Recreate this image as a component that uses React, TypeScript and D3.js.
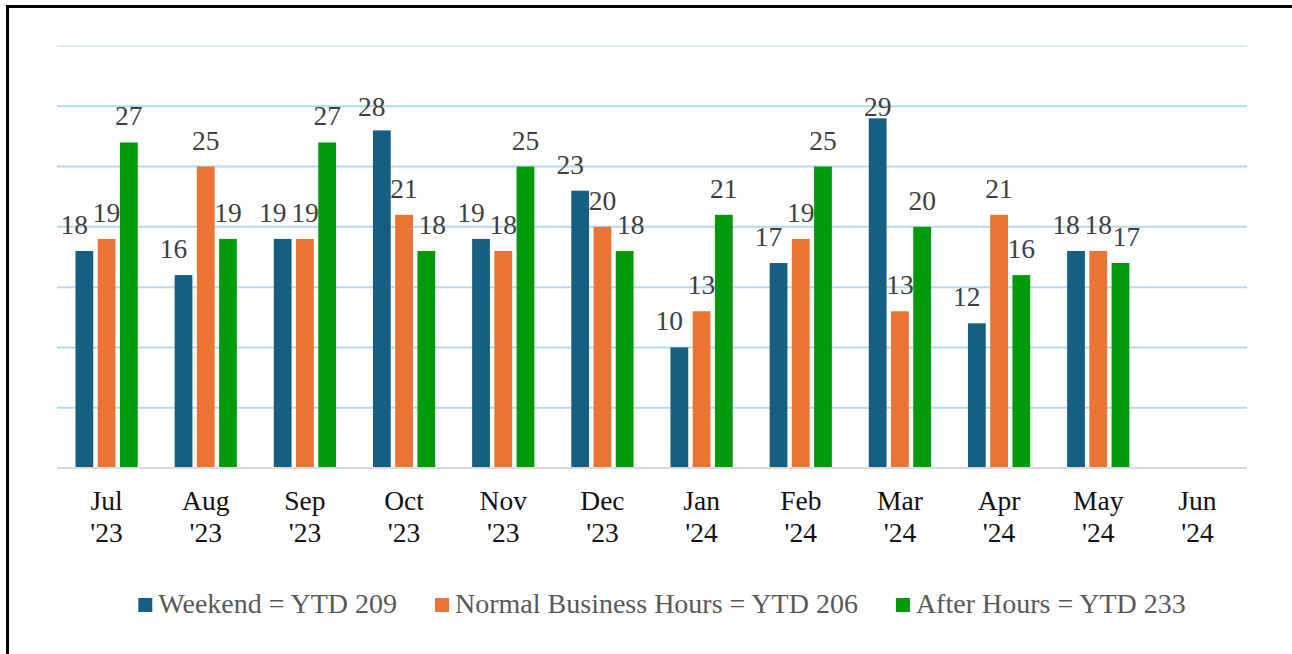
import React, { useRef, useEffect } from "react";
import * as d3 from "d3";

const months = ["Jul", "Aug", "Sep", "Oct", "Nov", "Dec", "Jan", "Feb", "Mar", "Apr", "May", "Jun"];
const years = ["'23", "'23", "'23", "'23", "'23", "'23", "'24", "'24", "'24", "'24", "'24", "'24"];

const weekend = [18, 16, 19, 28, 19, 23, 10, 17, 29, 12, 18];
const normalHours = [19, 25, 19, 21, 18, 20, 13, 19, 13, 21, 18];
const afterHours = [27, 19, 27, 18, 25, 18, 21, 25, 20, 16, 17];

const seriesNames = ["Weekend = YTD 209", "Normal Business Hours = YTD 206", "After Hours = YTD 233"];
const seriesColors = ["#175f80", "#eb7333", "#009a0a"];
const yTicks = [0, 5, 10, 15, 20, 25, 30, 35];

const W = 1292;
const H = 654;
const margin = { top: 46, right: 45, bottom: 186, left: 57 };
const FONT = "Liberation Serif, DejaVu Serif, serif";

const App: React.FC = () => {
  const svgRef = useRef<SVGSVGElement>(null);

  useEffect(() => {
    if (!svgRef.current) return;
    const svg = d3.select(svgRef.current);
    svg.selectAll("*").remove();

    const x0 = d3
      .scaleBand()
      .domain(months)
      .range([margin.left, W - margin.right])
      .paddingInner(0)
      .paddingOuter(0);

    const x1 = d3
      .scaleBand()
      .domain(["0", "1", "2"])
      .range([0, x0.bandwidth()])
      .paddingInner(0.2)
      .paddingOuter(0.83);

    const y = d3.scaleLinear().domain([0, 35]).range([H - margin.bottom, margin.top]);

    svg.append("rect").attr("width", W).attr("height", H).attr("fill", "#fff");

    // frame (top + left only)
    svg
      .append("path")
      .attr("d", `M7.5,${H} V6.5 H${W}`)
      .attr("fill", "none")
      .attr("stroke", "#000")
      .attr("stroke-width", 3);

    // gridlines
    svg
      .append("g")
      .selectAll("line")
      .data(yTicks.filter((t) => t > 0))
      .join("line")
      .attr("x1", margin.left)
      .attr("x2", W - margin.right)
      .attr("y1", (d) => y(d))
      .attr("y2", (d) => y(d))
      .attr("stroke", (d) => (d === 35 ? "#dceef9" : "#b3dbf0"))
      .attr("stroke-width", 2);

    const series = [weekend, normalHours, afterHours];

    const rows = months.map((m, i) => ({ m, i }));
    const groups = svg
      .append("g")
      .selectAll("g")
      .data(rows.filter((r) => r.i < weekend.length))
      .join("g")
      .attr("transform", (d) => `translate(${x0(d.m)},0)`);

    groups
      .selectAll("rect")
      .data((d) => series.map((s, k) => ({ k, v: s[d.i] })))
      .join("rect")
      .attr("x", (d) => x1(String(d.k)) as number)
      .attr("y", (d) => y(d.v))
      .attr("width", x1.bandwidth())
      .attr("height", (d) => y(0) - y(d.v))
      .attr("fill", (d) => seriesColors[d.k]);

    // data labels, nudged sideways where they would collide with the orange one
    groups
      .selectAll("text")
      .data((d) =>
        series.map((s, k) => {
          const v = s[d.i];
          const o = normalHours[d.i];
          let dx = 0;
          if (k === 0 && Math.abs(v - o) <= 10) dx = -10;
          if (k === 2 && Math.abs(v - o) <= 3) dx = 6;
          return { k, v, dx };
        })
      )
      .join("text")
      .attr("x", (d) => (x1(String(d.k)) as number) + x1.bandwidth() / 2 + d.dx)
      .attr("y", (d) => Math.max(y(d.v) - 17, 116))
      .attr("text-anchor", "middle")
      .style("font-family", FONT)
      .style("font-size", "27.5px")
      .attr("fill", "#404040")
      .text((d) => d.v);

    // baseline
    svg
      .append("line")
      .attr("x1", margin.left)
      .attr("x2", W - margin.right)
      .attr("y1", y(0))
      .attr("y2", y(0))
      .attr("stroke", "#d9d9d9")
      .attr("stroke-width", 2);

    // x labels
    const xl = svg
      .append("g")
      .selectAll("text")
      .data(rows)
      .join("text")
      .attr("text-anchor", "middle")
      .style("font-family", FONT)
      .style("font-size", "27.5px")
      .attr("fill", "#111");
    xl.append("tspan")
      .attr("x", (d) => (x0(d.m) as number) + x0.bandwidth() / 2)
      .attr("y", y(0) + 42)
      .text((d) => d.m);
    xl.append("tspan")
      .attr("x", (d) => (x0(d.m) as number) + x0.bandwidth() / 2)
      .attr("y", y(0) + 74)
      .text((d) => years[d.i]);

    // legend
    const legend = svg.append("g");
    const sq = 14;
    const gapSq = 6;
    const gapItem = 38;
    const legendY = 613;
    const items = seriesNames.map((name, k) => {
      const g = legend.append("g");
      g.append("rect")
        .attr("width", sq)
        .attr("height", sq)
        .attr("y", legendY - 15)
        .attr("fill", seriesColors[k]);
      const t = g
        .append("text")
        .attr("x", sq + gapSq)
        .attr("y", legendY)
        .style("font-family", FONT)
        .style("font-size", "28px")
        .attr("fill", "#595959")
        .text(name);
      const w = (t.node() as SVGTextElement).getComputedTextLength();
      return { g, w: sq + gapSq + w };
    });
    const total = d3.sum(items, (d) => d.w) + gapItem * (items.length - 1);
    let cx = 662 - total / 2;
    items.forEach((it) => {
      it.g.attr("transform", `translate(${cx},0)`);
      cx += it.w + gapItem;
    });
  }, []);

  return (
    <svg
      ref={svgRef}
      width={W}
      height={H}
      style={{ position: "absolute", left: 0, top: 0, display: "block" }}
    ></svg>
  );
};

export default App;
